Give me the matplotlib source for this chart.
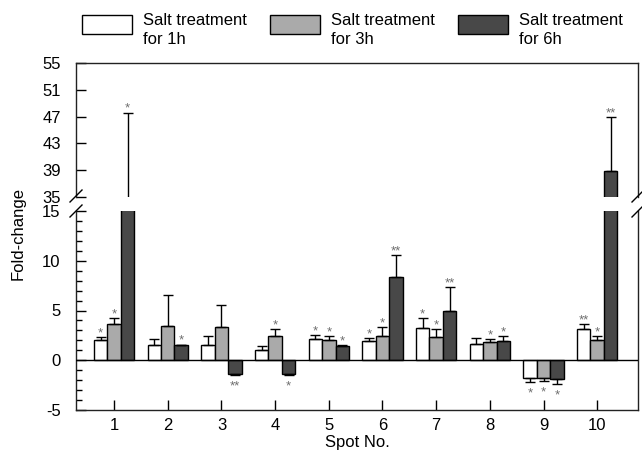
import numpy as np
import matplotlib
matplotlib.use('Agg')
import matplotlib.pyplot as plt
from matplotlib.patches import Rectangle
from matplotlib.lines import Line2D

plt.rcParams['font.family'] = ['Liberation Sans', 'DejaVu Sans']
plt.rcParams['font.size'] = 12
plt.rcParams['axes.unicode_minus'] = False

# === ДАННЫЕ ===
spots = [1, 2, 3, 4, 5, 6, 7, 8, 9, 10]
labels = ['Salt treatment\nfor 1h', 'Salt treatment\nfor 3h', 'Salt treatment\nfor 6h']

fc_1h = [2.0, 1.5, 1.5, 1.07, 2.17, 1.9, 3.27, 1.6, -1.77, 3.17]
sd_1h = [0.33, 0.67, 0.93, 0.36, 0.36, 0.33, 1.0, 0.67, 0.4, 0.46]
fc_3h = [3.67, 3.4, 3.33, 2.4, 2.07, 2.47, 2.37, 1.83, -1.77, 2.07]
sd_3h = [0.6, 3.17, 2.24, 0.77, 0.36, 0.83, 0.73, 0.34, 0.33, 0.4]
fc_6h = [22.0, 1.55, -1.4, -1.4, 1.47, 8.33, 5.0, 1.93, -1.93, 38.9]
sd_6h = [25.6, 0.02, 0.05, 0.05, 0.02, 2.27, 2.33, 0.5, 0.47, 8.0]

sig_1h = ['*', '', '', '', '*', '*', '*', '', '*', '**']
sig_3h = ['*', '', '', '*', '*', '*', '*', '*', '*', '*']
sig_6h = ['*', '*', '**', '*', '*', '**', '**', '*', '*', '**']

COLORS = ['white', '#aaaaaa', '#484848']
STAR_COLOR = '#6e6e6e'
W, H = 642, 453


def px_box(x0, y0, x1, y1):
    """Пиксели картинки -> доли фигуры [left, bottom, width, height]"""
    return [x0 / W, 1 - y1 / H, (x1 - x0) / W, (y1 - y0) / H]


fig = plt.figure(figsize=(6.42, 4.53), dpi=100)
ax_top = fig.add_axes(px_box(76, 63, 638, 197))
ax_bot = fig.add_axes(px_box(76, 211, 638, 410))

x = np.array(spots, dtype=float)
width = 0.25
series = [(fc_1h, sd_1h, sig_1h), (fc_3h, sd_3h, sig_3h), (fc_6h, sd_6h, sig_6h)]

for i, (vals, sds, sigs) in enumerate(series):
    vals = np.array(vals)
    sds = np.array(sds)
    xs = x + (i - 1) * width
    lower = np.where(vals < 0, sds, 0)
    upper = np.where(vals >= 0, sds, 0)
    for ax in (ax_top, ax_bot):
        ax.bar(xs, vals, width, color=COLORS[i], edgecolor='black', linewidth=1, zorder=2)
        ax.errorbar(xs, vals, yerr=[lower, upper], fmt='none', ecolor='black',
                    elinewidth=1, capsize=3.5, capthick=1, zorder=3)
    # звездочки значимости
    for xi, v, s, sg in zip(xs, vals, sds, sigs):
        if not sg:
            continue
        end = v + s if v >= 0 else v - s
        ax = ax_top if end > 15 else ax_bot
        dy = 0.5 if v >= 0 else -10.5
        ax.annotate(sg, (xi, end), xytext=(0, dy), textcoords='offset points',
                    ha='center', va='baseline', fontsize=9.5, color=STAR_COLOR, zorder=4)

ax_bot.axhline(0, color='black', linewidth=1, zorder=4)

for ax in (ax_top, ax_bot):
    ax.set_xlim(0.29, 10.76)
    for sp in ax.spines.values():
        sp.set_linewidth(1)
        sp.set_color('#222222')
    ax.tick_params(axis='both', direction='in', length=7, width=1, labelsize=12)
    ax.tick_params(axis='y', pad=11)

ax_top.set_ylim(35, 55)
ax_top.set_yticks(np.arange(35, 56, 4))
ax_top.spines['bottom'].set_visible(False)
ax_top.set_xticks([])

ax_bot.set_ylim(-5, 15)
ax_bot.set_yticks([-5, 0, 5, 10, 15])
ax_bot.set_yticks(np.arange(-5, 16, 1), minor=True)
ax_bot.tick_params(axis='y', which='minor', direction='in', length=4, width=1)
ax_bot.spines['top'].set_visible(False)
ax_bot.set_xticks(spots)
ax_bot.tick_params(axis='x', pad=6)

# разрывы оси
for xc in (76, 638):
    for yc in (196, 211):
        fig.add_artist(Line2D([(xc - 6) / W, (xc + 6) / W],
                              [1 - (yc + 6) / H, 1 - (yc - 6) / H],
                              color='black', linewidth=1))

# подписи осей
fig.text(18 / W, 1 - 234 / H, 'Fold-change', rotation=90, ha='center', va='center', fontsize=12)
fig.text(357 / W, 1 - 443 / H, 'Spot No.', ha='center', va='center', fontsize=12)

# легенда
for i, lab in enumerate(labels):
    x0 = 82 + i * 188
    fig.add_artist(Rectangle((x0 / W, 1 - 34 / H), 50 / W, 19 / H,
                             facecolor=COLORS[i], edgecolor='black', linewidth=1,
                             transform=fig.transFigure))
    fig.text((x0 + 61) / W, 1 - 13 / H, lab, ha='left', va='top', fontsize=12,
             linespacing=1.35)

fig.savefig('out.png', dpi=100)
